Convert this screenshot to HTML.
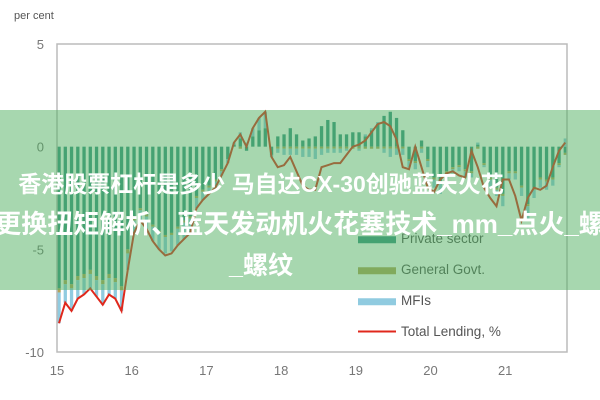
<!DOCTYPE html>
<html><head><meta charset="utf-8"><style>
body{margin:0;background:#fff;}
#wrap{position:relative;width:600px;height:400px;overflow:hidden;font-family:"Liberation Sans",sans-serif;}
#band{position:absolute;left:0;top:110px;width:600px;height:180px;background:rgba(80,175,95,0.5);}
.t{position:absolute;width:800px;text-align:center;color:#fff;font-weight:bold;font-size:25px;white-space:nowrap;font-family:"Liberation Sans","Noto Sans CJK SC",sans-serif;}
</style></head><body>
<div id="wrap">
<svg id="chart" width="600" height="400"></svg>
<div id="band"></div>
<div class="t" style="top:165px;left:-139px;font-size:23px">香港股票杠杆是多少 马自达CX-30创驰蓝天火花</div>
<div class="t" style="top:204px;left:-100px;font-size:26px">更换扭矩解析、蓝天发动机火花塞技术_mm_点火_螺</div>
<div class="t" style="top:246px;left:-139px">_螺纹</div>
</div>
<script>
const yTicks=[5,0,-5,-10];
const yearLabels=["15","16","17","18","19","20","21"];
const total=[-8.6,-7.6,-8.0,-7.4,-7.2,-6.9,-7.3,-7.7,-7.2,-7.4,-8.0,-6.0,
-4.2,-3.6,-4.0,-4.6,-5.0,-5.3,-5.2,-4.8,-4.5,-4.2,-3.0,-2.6,
-2.3,-2.0,-1.4,-0.8,0.2,0.6,0.0,0.9,1.4,1.7,-0.5,-1.0,
-0.9,-0.5,-1.2,-1.9,-2.1,-2.1,-1.0,-0.9,-0.8,-0.8,-0.4,0.0,
0.1,0.3,0.7,1.1,1.2,1.0,0.35,-1.0,-1.1,0.0,-1.0,-2.0,
-2.2,-1.6,-1.3,-1.2,-1.4,-1.5,-0.2,-1.0,-2.0,-2.5,-2.9,-1.6,
-1.6,-2.4,-3.6,-2.5,-2.0,-2.1,-1.9,-1.0,-0.2,0.2];
const privateSector=[-6.9,-6.5,-6.7,-6.3,-6.2,-6,-6.3,-6.5,-6.2,-6.4,-6.8,-5,
-3.5,-3,-3.3,-3.8,-4.1,-4.3,-4.2,-3.9,-3.6,-3.4,-2.4,-2.1,
-1.9,-1.6,-1.1,-0.6,0.1,0.4,-0.2,0.5,0.8,0.9,-0.4,0.5,
0.6,0.9,0.6,0.3,0.4,0.5,1.0,1.3,1.2,0.6,0.6,0.7,
0.7,0.5,0.8,1.1,1.5,1.7,1.4,0.8,-0.6,-0.7,0.3,-0.6,
-1.5,-1.7,-1.2,-1,-0.9,-1.1,-1.2,0.1,-0.8,-1.5,-2,-2.3,
-1.2,-1.2,-1.9,-2.8,-2,-1.5,-1.6,-1.5,-0.8,-0.3];
const mfis=[-1.5,-0.9,-1.1,-0.9,-0.8,-0.7,-0.8,-1.0,-0.8,-0.8,-1.0,-0.8,
-0.6,-0.5,-0.6,-0.7,-0.8,-0.8,-0.8,-0.8,-0.8,-0.7,-0.5,-0.4,
-0.3,-0.3,-0.2,-0.2,0.1,0.3,0.2,0.4,0.6,0.8,-0.1,-0.2,
-0.3,-0.3,-0.3,-0.4,-0.4,-0.5,-0.3,-0.2,-0.2,-0.2,-0.1,0,
-0.1,0.1,0.1,0.1,-0.2,-0.4,-0.3,-0.3,-0.3,-0.3,-0.2,-0.3,
-0.4,-0.5,-0.3,-0.2,-0.2,-0.3,-0.2,0.1,-0.1,-0.4,-0.3,-0.5,
-0.3,-0.3,-0.4,-0.7,-0.4,-0.4,-0.4,-0.3,-0.1,0.4];
const govt=[-0.2,-0.2,-0.2,-0.2,-0.2,-0.2,-0.2,-0.2,-0.2,-0.2,-0.2,-0.2,
-0.1,-0.1,-0.1,-0.1,-0.1,-0.1,-0.1,-0.1,-0.1,-0.1,-0.1,-0.1,
-0.1,-0.1,-0.1,0,0,-0.1,0,0,0,0,0,-0.1,
-0.1,-0.1,-0.1,-0.1,-0.1,-0.1,-0.1,-0.1,-0.1,-0.1,-0.1,-0.1,
-0.1,-0.1,-0.1,-0.1,-0.1,-0.1,-0.1,-0.1,-0.1,-0.1,-0.1,-0.1,
-0.1,-0.1,-0.1,-0.1,-0.1,-0.1,-0.1,-0.1,-0.1,-0.1,-0.1,-0.1,
-0.1,-0.1,-0.1,-0.1,-0.1,-0.1,-0.1,-0.1,-0.1,-0.1];
const NS="http://www.w3.org/2000/svg";
const svg=document.getElementById('chart');
const L=57,R=567,T=44,B=352;
function y(v){return T+(5-v)*(B-T)/15;}
function x(i){return L+i*75/12+2;}
function xYear(k){return L+k*74.7;}
function mk(tag,attrs,parent){const e=document.createElementNS(NS,tag);for(const k in attrs)e.setAttribute(k,attrs[k]);(parent||svg).appendChild(e);return e;}
let e=mk('text',{x:14,y:19,'font-size':11,fill:'#555'});e.textContent='per cent';


yTicks.forEach(v=>{const t=mk('text',{x:44,y:y(v)+5,'font-size':13,fill:'#777','text-anchor':'end'});t.textContent=v;

});
yearLabels.forEach((s,k)=>{const t=mk('text',{x:xYear(k),y:375,'font-size':13,fill:'#777','text-anchor':'middle'});t.textContent=s;

});
const series=[[privateSector,'#3a9484'],[govt,'#b3a45a'],[mfis,'#90cbe0']];
for(let i=0;i<total.length;i++){let pos=0,neg=0;
 series.forEach(([arr,col])=>{const v=arr[i];let y0,y1;
  if(v>=0){y0=y(pos+v);y1=y(pos);pos+=v;}else{y0=y(neg);y1=y(neg+v);neg+=v;}
  const r=mk('rect',{x:x(i)-1.6,y:y0,width:3.3,height:Math.max(0,y1-y0),fill:col});
  
  });}
const line=mk('polyline',{points:total.map((v,i)=>x(i)+','+y(v)).join(' '),fill:'none',stroke:'#e0281c','stroke-width':2});


const fr=mk('rect',{x:L,y:T,width:R-L,height:B-T,fill:'none',stroke:'#bbb','stroke-width':1.5});


const leg=[['Private sector','#3a9484',3.5],['General Govt.','#b3a45a',3.5],['MFIs','#90cbe0',3.5],['Total Lending, %','#e0281c',1]];
leg.forEach(([s,c,h],k)=>{const yy=238+k*31;
 const sw=mk('rect',{x:358,y:yy-h/2,width:38,height:h*2,fill:c});
 
 
 const t=mk('text',{x:401,y:yy+5,'font-size':13.5,fill:'#555'});t.textContent=s;
 
 });
</script>
</body></html>
